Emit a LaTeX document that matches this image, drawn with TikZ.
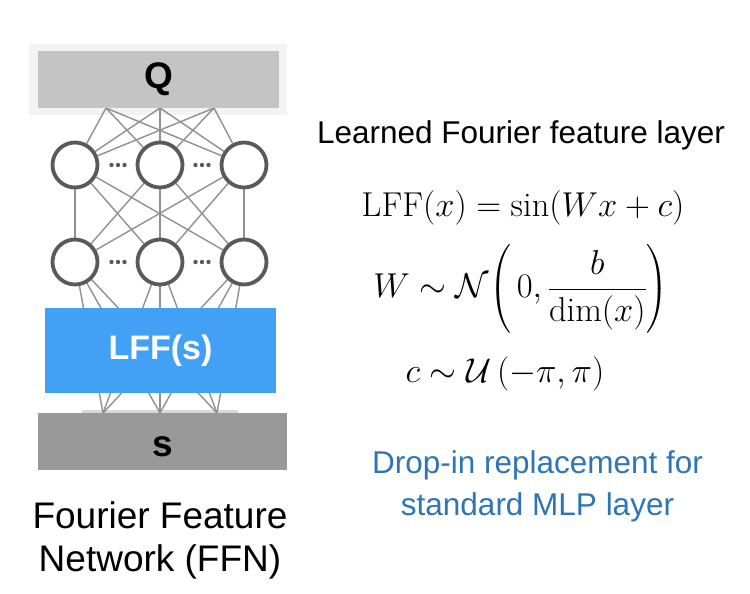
\RequirePackage{fix-cm}
\documentclass[tikz,border=0pt]{standalone}
\usepackage{amsmath}
\usepackage{fontspec}
\usepackage{xcolor}
\usetikzlibrary{backgrounds}
\newfontfamily\arial{Liberation Sans}
\definecolor{qgray}{HTML}{C4C4C4}
\definecolor{qback}{HTML}{F3F3F3}
\definecolor{sgray}{HTML}{999999}
\definecolor{sstrip}{HTML}{D9D9D9}
\definecolor{lffblue}{HTML}{42A0F5}
\definecolor{noteblue}{HTML}{2E75B6}
\definecolor{ringgray}{HTML}{5A5A5A}
\definecolor{wiregray}{HTML}{909090}
\tikzset{
  neuron/.style={circle,draw=ringgray,line width=3.8pt,fill=white,minimum size=45pt,inner sep=0pt},
  wire/.style={draw=wiregray,line width=1.4pt},
  layerbox/.style={rectangle,inner sep=0pt,font=\arial\bfseries\fontsize{34}{40}\selectfont},
  bigtext/.style={anchor=base,inner sep=0pt,font=\arial\fontsize{31.5}{42}\selectfont},
  captext/.style={anchor=base,inner sep=0pt,font=\arial\fontsize{37}{43}\selectfont},
  mathtext/.style={inner sep=0pt,font=\fontsize{34.5}{37}\selectfont},
}

\begin{document}
\begin{tikzpicture}[x=1pt,y=-1pt]
    \useasboundingbox (0,0) rectangle (750,594);
    \coordinate (q1) at (106,108);
    \coordinate (q2) at (160,108);
    \coordinate (q3) at (214,108);
    \coordinate (s1) at (103,413);
    \coordinate (s2) at (160,413);
    \coordinate (s3) at (217,413);
    \node[layerbox,fill=qgray,minimum width=241pt,minimum height=57pt,font=\arial\bfseries\fontsize{37}{40}\selectfont] (Q) at (158.5,79.5) {Q};
    \node[layerbox,fill=sgray,minimum width=249pt,minimum height=57pt,text height=30pt,text depth=0pt,font=\arial\bfseries\fontsize{37}{40}\selectfont] (s) at (162.5,441.5) {s};
    \node[neuron] (h11) at (75,165) {};
    \node[neuron] (h12) at (160,165) {};
    \node[neuron] (h13) at (244,165) {};
    \node[neuron] (h21) at (75,262) {};
    \node[neuron] (h22) at (160,262) {};
    \node[neuron] (h23) at (244,262) {};
    \begin{pgfonlayer}{background}
      \fill[qback] (29,44) rectangle (287,115);
      \fill[sstrip] (82,410) rectangle (238,414);
      \foreach \i in {1,2,3}{
        \foreach \j in {1,2,3}{
          \draw[wire] (q\i) -- (h1\j);
          \draw[wire] (h1\i) -- (h2\j);
          \draw[wire] (s\i) -- (h2\j);
        }
      }
    \end{pgfonlayer}
    \foreach \x in {111.5,118,124.5,195.5,202,208.5}
      \foreach \y in {165,262}
        \fill[ringgray] (\x,\y) circle (2.2pt);
    \node[layerbox,fill=lffblue,text=white,minimum width=231pt,minimum height=85pt] (lff) at (160.5,350.5) {LFF(s)};
    \node[captext] (cap1) at (160,528) {Fourier Feature};
    \node[captext] (cap2) at (160,571) {Network (FFN)};
    \node[bigtext] (title) at (521,143) {Learned Fourier feature layer};
    \node[mathtext,anchor=base] (eqlff) at (523,216) {$\mathrm{LFF}(x)=\sin(Wx+c)$};
    \node[mathtext] (eqw) at (521,289) {$\displaystyle W\sim\mathcal{N}\biggl(\,0,\frac{b}{\dim(x)}\biggr)$};
    \node[mathtext,anchor=base] (eqc) at (505,382) {$c\sim\mathcal{U}\left(-\pi,\pi\right)$};
    \node[bigtext,text=noteblue] (note1) at (537.5,473) {Drop-in replacement for};
    \node[bigtext,text=noteblue] (note2) at (537.5,515) {standard MLP layer};
\end{tikzpicture}
\end{document}
